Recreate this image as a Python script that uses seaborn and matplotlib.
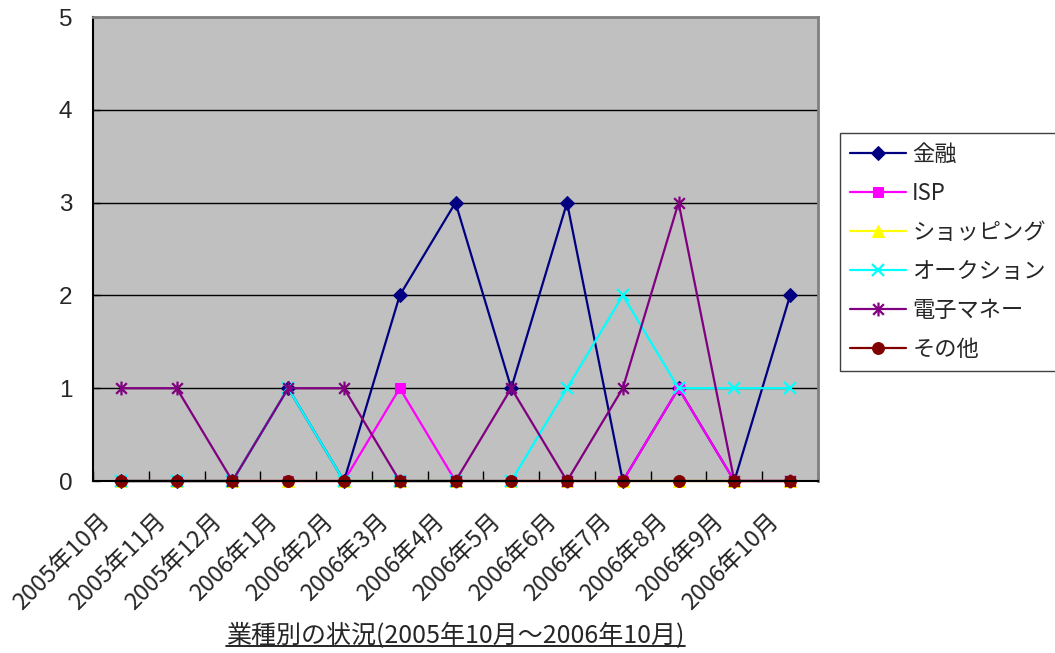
import matplotlib
matplotlib.use("Agg")
import matplotlib.pyplot as plt
import matplotlib.transforms as mtransforms
from matplotlib.path import Path
from matplotlib.lines import Line2D
import seaborn as sns

# ---- data ----
months = ["2005年10月", "2005年11月", "2005年12月", "2006年1月", "2006年2月",
          "2006年3月", "2006年4月", "2006年5月", "2006年6月", "2006年7月",
          "2006年8月", "2006年9月", "2006年10月"]
finance = [0, 0, 0, 1, 0, 2, 3, 1, 3, 0, 1, 0, 2]
isp = [0, 0, 0, 0, 0, 1, 0, 0, 0, 0, 1, 0, 0]
shopping = [0, 0, 0, 0, 0, 0, 0, 0, 0, 0, 0, 0, 0]
auction = [0, 0, 0, 1, 0, 0, 0, 0, 1, 2, 1, 1, 1]
emoney = [1, 1, 0, 1, 1, 0, 0, 1, 0, 1, 3, 0, 0]
other = [0, 0, 0, 0, 0, 0, 0, 0, 0, 0, 0, 0, 0]
series_names = ["金融", "ISP", "ショッピング", "オークション", "電子マネー", "その他"]
series_values = [finance, isp, shopping, auction, emoney, other]
title_text = "業種別の状況(2005年10月～2006年10月)"

sns.set_style("ticks")
plt.rcParams["font.family"] = ["Noto Sans CJK JP", "DejaVu Sans"]

# asterisk marker: an X with a vertical bar
asterisk = Path([(-1, -1), (1, 1), (-1, 1), (1, -1), (0, -1.3), (0, 1.3)],
                [Path.MOVETO, Path.LINETO, Path.MOVETO, Path.LINETO,
                 Path.MOVETO, Path.LINETO])

styles = [
    dict(color="#000080", marker="D", markersize=7.5),
    dict(color="#FF00FF", marker="s", markersize=7.5),
    dict(color="#FFFF00", marker="^", markersize=8.5),
    dict(color="#00FFFF", marker="x", markersize=9, markeredgewidth=1.6),
    dict(color="#800080", marker=asterisk, markersize=10, markeredgewidth=1.6),
    dict(color="#800000", marker="o", markersize=8.5),
]

W, H = 1055, 653
fig = plt.figure(figsize=(W / 100, H / 100), dpi=100)
ax = fig.add_axes([93 / W, 1 - 481 / H, (818 - 93) / W, (481 - 17) / H])
ax.set_facecolor("#C0C0C0")

x = list(range(len(months)))
for name, vals, st in zip(series_names, series_values, styles):
    sns.lineplot(x=x, y=vals, ax=ax, label=name, linewidth=1.6,
                 markeredgecolor=st["color"], clip_on=False, **st)

ax.set_xlim(-0.5, len(months) - 0.5)
ax.set_ylim(0, 5)

# horizontal gridlines
for yv in range(1, 5):
    ax.axhline(yv, color="black", linewidth=1.0, zorder=1)

ax.set_xticks(x)
ax.set_xticklabels(months, rotation=45, ha="right", va="top",
                   rotation_mode="anchor", fontsize=17)
ax.tick_params(axis="x", which="major", length=0, pad=21)
shift = mtransforms.ScaledTranslation(-22 / 100, 0, fig.dpi_scale_trans)
for lbl in ax.get_xticklabels():
    lbl.set_transform(lbl.get_transform() + shift)
ax.set_xticks([i - 0.5 for i in range(len(months) + 1)], minor=True)
ax.tick_params(axis="x", which="minor", direction="in", length=7,
               width=1, color="black")

ax.set_yticks(range(0, 6))
ax.set_yticklabels([str(v) for v in range(0, 6)], fontsize=17.5,
                   family=["Liberation Sans", "DejaVu Sans"])
ax.tick_params(axis="y", direction="in", length=5, width=1, pad=15)

for side in ("left", "bottom"):
    ax.spines[side].set_color("black")
    ax.spines[side].set_linewidth(1.5)
for side in ("top", "right"):
    ax.spines[side].set_visible(True)
    ax.spines[side].set_color("#808080")
    ax.spines[side].set_linewidth(2)
ax.set_xlabel("")
ax.set_ylabel("")

leg = ax.legend(loc="upper left", bbox_to_anchor=(840 / W, 1 - 133 / H),
                bbox_transform=fig.transFigure, frameon=True, fancybox=False,
                fontsize=16, handlelength=2.5, handletextpad=0.3,
                labelspacing=0.72, borderpad=0.45, borderaxespad=0)
leg.get_frame().set_edgecolor("#404040")
leg.get_frame().set_linewidth(1.0)
leg.get_frame().set_facecolor("white")
leg.get_frame().set_alpha(1)

# bottom caption with underline
cap = fig.text((93 + 818) / 2 / W, 1 - 636 / H, title_text, ha="center",
               va="center", fontsize=18)
fig.canvas.draw()
bb = cap.get_window_extent()
fig.add_artist(Line2D([bb.x0, bb.x1], [bb.y0 + 3, bb.y0 + 3],
                      transform=None, color="black", linewidth=1.2))

fig.savefig("out.png", dpi=100)
